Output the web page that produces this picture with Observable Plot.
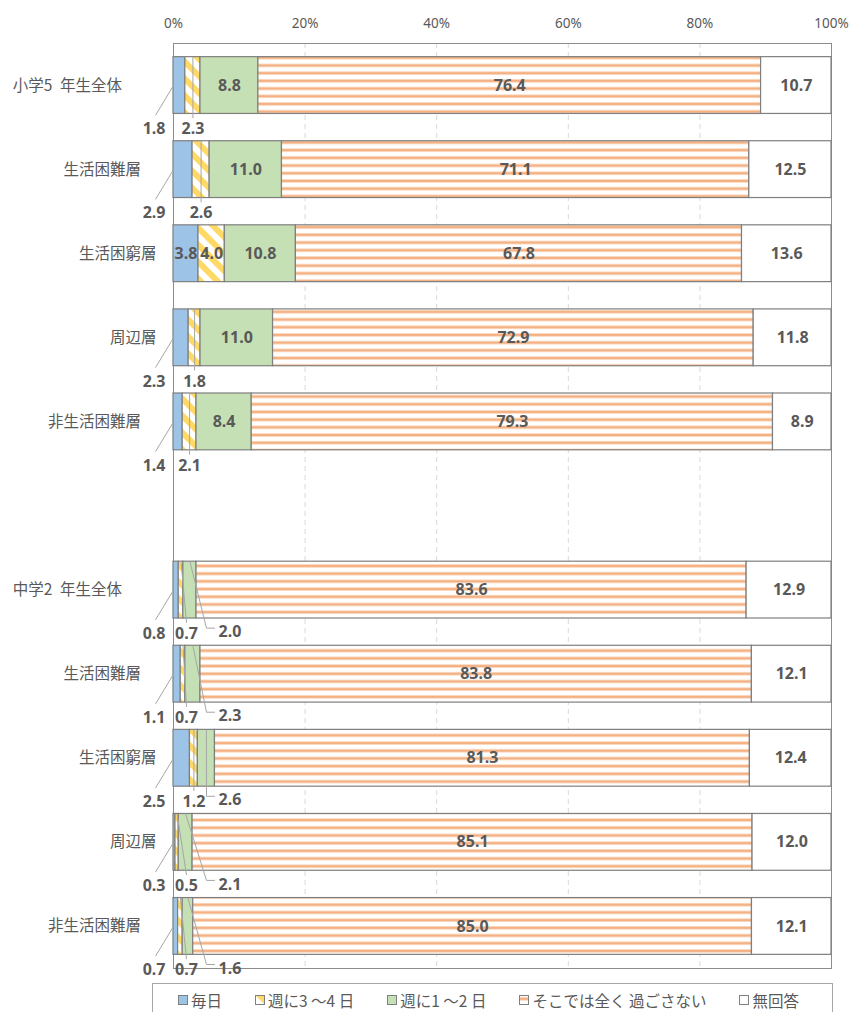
<!DOCTYPE html>
<html lang="ja"><head><meta charset="utf-8">
<script src="https://cdn.jsdelivr.net/npm/d3@7"></script>
<script src="https://cdn.jsdelivr.net/npm/@observablehq/plot@0.6"></script>
<style>
html,body{margin:0;padding:0;background:#fff;}
#wrap{position:relative;width:852px;height:1012px;overflow:hidden;}
#chart svg text{white-space:pre;}
#legend{position:absolute;left:152px;top:983px;width:681px;height:44px;box-sizing:border-box;border:1px solid #a6a6a6;display:flex;justify-content:space-between;align-items:flex-start;padding:6px 33px 0 25px;font-family:"Noto Sans CJK JP",sans-serif;font-size:15.5px;color:#595959;line-height:20px;background:#fff;}
.item{display:flex;align-items:center;white-space:pre;}
.item svg{margin-right:3px;}
</style></head>
<body><div id="wrap"><div id="chart"></div><div id="legend"></div></div>
<script>
// ---- data ----
const categories = ["小学5\u2002年生全体　　 ","生活困難層　","生活困窮層","周辺層","非生活困難層　","","中学2\u2002年生全体　　 ","生活困難層　","生活困窮層","周辺層","非生活困難層　"];
const series = ["毎日","週に3 ～4 日","週に1 ～2 日","そこでは全く 過ごさない","無回答"];
const daily    = [1.8, 2.9, 3.8, 2.3, 1.4, null, 0.8, 1.1, 2.5, 0.3, 0.7];
const days34   = [2.3, 2.6, 4.0, 1.8, 2.1, null, 0.7, 0.7, 1.2, 0.5, 0.7];
const days12   = [8.8, 11.0, 10.8, 11.0, 8.4, null, 2.0, 2.3, 2.6, 2.1, 1.6];
const never    = [76.4, 71.1, 67.8, 72.9, 79.3, null, 83.6, 83.8, 81.3, 85.1, 85.0];
const noAnswer = [10.7, 12.5, 13.6, 11.8, 8.9, null, 12.9, 12.1, 12.4, 12.0, 12.1];
const xTicks = [0, 20, 40, 60, 80, 100];

// ---- styles ----
const fills = ["#9dc3e6", "url(#pYellow)", "#c5e0b4", "url(#pOrange)", "#ffffff"];
const W = 852, H = 984, mL = 173, mR = 21, mT = 43, mB = 16;
const plotW = W - mL - mR, plotH = H - mT - mB;
const px = n => n * 100 / plotW;          // pixels -> x units
const py = n => n * 11 / plotH;           // pixels -> y units
const half = py(28.4);
const fmt = d3.format(".1f");
const labelFont = "Noto Sans";
const gray = "#595959", leader = "#a6a6a6";

const seriesValues = [daily, days34, days12, never, noAnswer];
const segs = [];
categories.forEach((c, i) => {
  const vals = seriesValues.map(s => s[i]);
  if (vals.some(v => v == null)) return;
  const total = d3.sum(vals);
  let acc = 0;
  vals.forEach((v, k) => {
    const x1 = acc / total * 100; acc += v; const x2 = acc / total * 100;
    segs.push({row: i, k, value: v, x1, x2, mid: (x1 + x2) / 2});
  });
});
const rows = categories.map((c, i) => i).filter(i => daily[i] != null);
const inside = segs.filter(d => d.value >= 3.5);
const outBlue = segs.filter(d => d.value < 3.5 && d.k === 0);
const outYellow = segs.filter(d => d.value < 3.5 && d.k === 1).map(d => ({...d, lx: Math.max(d.mid, px(13))}));
const outGreen = segs.filter(d => d.value < 3.5 && d.k === 2).map(d => ({...d, lx: px(45)}));
const greenPts = outGreen.flatMap(d => [
  {row: d.row, x: d.mid, y: d.row - half},
  {row: d.row, x: d.lx - px(12), y: d.row + 0.5 - py(4)},
  {row: d.row, x: d.lx - px(4), y: d.row + 0.5 - py(4)}
]);

const bars = fills.map((f, k) => Plot.rectX(segs.filter(d => d.k === k), {
  x1: "x1", x2: "x2", y1: d => d.row - half, y2: d => d.row + half,
  fill: f, stroke: "#7f7f7f", strokeWidth: 1.2
}));

const textOpts = {fontSize: 16, fontWeight: "bold", fill: gray, fontFamily: labelFont};

const chart = Plot.plot({
  width: W, height: H, marginLeft: mL, marginRight: mR, marginTop: mT, marginBottom: mB,
  x: {domain: [0, 100], axis: null},
  y: {domain: [-0.5, 10.5], reverse: true, axis: null},
  style: {color: gray, background: "#fff"},
  marks: [
    Plot.gridX(xTicks.slice(1, -1), {stroke: "#d9d9d9", strokeOpacity: 1, strokeDasharray: "5,4"}),
    Plot.frame({stroke: "#8c8c8c"}),
    ...bars,
    Plot.link(outBlue, {x1: "x1", y1: "row", x2: d => d.x1 - px(18), y2: d => d.row + 0.52 - py(14), stroke: leader, strokeWidth: 1}),
    Plot.link(outYellow, {x1: "mid", y1: d => d.row - half, x2: "lx", y2: d => d.row + 0.52 - py(11), stroke: leader, strokeWidth: 1}),
    Plot.line(greenPts, {x: "x", y: "y", z: "row", stroke: leader, strokeWidth: 1}),
    Plot.text(inside, {x: "mid", y: "row", text: d => fmt(d.value), ...textOpts}),
    Plot.text(outBlue, {x: "x1", y: d => d.row + 0.52, text: d => fmt(d.value), textAnchor: "end", dx: -8, ...textOpts}),
    Plot.text(outYellow, {x: "lx", y: d => d.row + 0.52, text: d => fmt(d.value), ...textOpts}),
    Plot.text(outGreen, {x: "lx", y: d => d.row + 0.5, text: d => fmt(d.value), textAnchor: "start", ...textOpts}),
    Plot.axisX(xTicks, {anchor: "top", tickSize: 0, tickPadding: 16, tickFormat: d => d + "%", fontSize: 13.5, fontFamily: labelFont, label: null}),
    Plot.axisY(rows, {anchor: "left", tickSize: 0, tickPadding: 17, tickFormat: i => categories[i], fontSize: 15.5, fontFamily: "Noto Sans CJK JP", label: null})
  ]
});

// pattern definitions
const defs = document.createElementNS("http://www.w3.org/2000/svg", "defs");
defs.innerHTML = `
<pattern id="pYellow" patternUnits="userSpaceOnUse" width="12" height="12" patternTransform="rotate(-45)">
  <rect width="12" height="12" fill="#ffffff"/>
  <rect width="6" height="12" fill="#ffd966"/>
</pattern>
<pattern id="pOrange" patternUnits="userSpaceOnUse" width="10" height="7.7">
  <rect width="10" height="7.7" fill="#ffffff"/>
  <rect y="2.2" width="10" height="3.3" fill="#fbd9c0"/>
  <rect y="2.7" width="10" height="2.3" fill="#f4b183"/>
</pattern>`;
chart.insertBefore(defs, chart.firstChild);
document.getElementById("chart").appendChild(chart);

// legend
const legend = document.getElementById("legend");
series.forEach((s, k) => {
  const item = document.createElement("span");
  item.className = "item";
  item.innerHTML = `<svg width="10" height="10"><rect x="0.5" y="0.5" width="9" height="9" fill="${fills[k]}" stroke="#7f7f7f" stroke-width="1"/></svg>`;
  const t = document.createElement("span");
  t.textContent = s;
  item.appendChild(t);
  legend.appendChild(item);
});
</script>
</body></html>
